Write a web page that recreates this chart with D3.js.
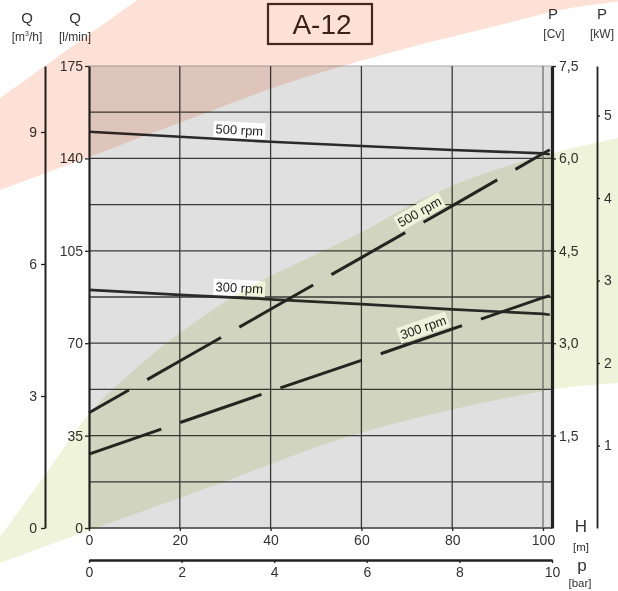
<!DOCTYPE html>
<html><head><meta charset="utf-8">
<script src="https://cdn.jsdelivr.net/npm/d3@7"></script>
<style>
body{margin:0;background:#fff}
svg{display:block;font-family:"Liberation Sans",Arial,sans-serif}
</style>
</head><body>
<svg id="c" width="618" height="591"></svg>
<script>
// ---------- data ----------
const headValues = [0, 20, 40, 60, 80, 100, 101.5];          // H [m]
const flow500 = [150.1, 148.2, 146.3, 144.7, 143.2, 141.9, 141.6]; // Q [l/min]
const flow300 = [90.2, 88.3, 86.6, 84.8, 82.8, 81.1, 80.8];
const power500 = [1.87, 2.71, 3.55, 4.39, 5.23, 6.08, 6.14];  // P [Cv]
const power300 = [1.20, 1.71, 2.22, 2.72, 3.23, 3.74, 3.77];
const headTicks = [0, 20, 40, 60, 80, 100];
const pressureTicks = [0, 2, 4, 6, 8, 10];
const flowLminTicks = [0, 35, 70, 105, 140, 175];
const flowM3hTicks = [0, 3, 6, 9];
const powerCvTicks = [1.5, 3, 4.5, 6, 7.5];
const powerKwTicks = [1, 2, 3, 4, 5];
const flowGrid = [17.5, 35, 52.5, 70, 87.5, 105, 122.5, 140, 157.5];
const headGrid = [20, 40, 60, 80];
// background bands, in (H, Q l/min) units
const greenUpper = [[-19.6,-3.4],[-9.7,20.1],[0.2,43.6],[11.2,61.7],[20,73.9],[28.9,84.5],[38.3,93.9],[59.7,111.7],[72.9,124.2],[86.1,133.7],[102.2,142],[116.5,147.7]];
const greenLower = [[116.5,54.9],[101.5,52.3],[59.7,36],[26.7,15.5],[0.2,-0.8],[-19.6,-13.3]];
const pinkUpper = [[-19.6,162.9],[10.6,200],[116.5,200]];
const pinkLower = [[116.5,199.4],[103.7,196.2],[90.5,190.5],[68.5,181.1],[43.8,168.6],[21.6,154.5],[0,140.5],[-19.6,128]];

// ---------- scales ----------
const svg = d3.select("#c");
const x = d3.scaleLinear().domain([0,100]).range([89,543]);
const xp = d3.scaleLinear().domain([0,10]).range([89,552]);
const yQ = d3.scaleLinear().domain([0,175]).range([528,66]);
const yM = d3.scaleLinear().domain([0,10.5]).range([528,66]);
const yCv = d3.scaleLinear().domain([0,7.5]).range([528,66]);
const yKw = d3.scaleLinear().domain([0,5.6]).range([528,66]);

svg.append("rect").attr("width",618).attr("height",591).attr("fill","#fff");

// plot background
const x0 = x(0), x1 = xp(10);
svg.append("rect").attr("x",x0).attr("y",yQ(175)).attr("width",x1-x0).attr("height",yQ(0)-yQ(175)).attr("fill","#e0e0e0");

// grid
const g = svg.append("g");
g.selectAll(".hg").data(flowGrid).join("line")
  .attr("x1",x0).attr("x2",x1).attr("y1",d=>yQ(d)).attr("y2",d=>yQ(d))
  .attr("stroke","#3a3a3a").attr("stroke-width",1.3);
g.append("line").attr("x1",x0).attr("x2",x1).attr("y1",yQ(175)).attr("y2",yQ(175)).attr("stroke","#a8a8a8").attr("stroke-width",1);
g.append("line").attr("x1",x0).attr("x2",x1).attr("y1",yQ(0)).attr("y2",yQ(0)).attr("stroke","#3a3a3a").attr("stroke-width",1.5);
g.selectAll(".vg").data(headGrid).join("line")
  .attr("x1",d=>x(d)).attr("x2",d=>x(d)).attr("y1",yQ(175)).attr("y2",yQ(0))
  .attr("stroke","#3a3a3a").attr("stroke-width",1.3);
g.append("line").attr("x1",x(100)).attr("x2",x(100)).attr("y1",yQ(175)).attr("y2",yQ(0)).attr("stroke","#707070").attr("stroke-width",1.3);

// ---------- curves ----------
const lineQ = d3.line().x((d,i)=>x(headValues[i])).y(d=>yQ(d));
const lineP = d3.line().x((d,i)=>x(headValues[i])).y(d=>yCv(d));
svg.append("path").attr("d",lineQ(flow500)).attr("fill","none").attr("stroke","#2a2a2a").attr("stroke-width",2.6);
svg.append("path").attr("d",lineQ(flow300)).attr("fill","none").attr("stroke","#2a2a2a").attr("stroke-width",2.6);
svg.append("path").attr("d",lineP(power500)).attr("fill","none").attr("stroke","#262626").attr("stroke-width",3)
  .attr("stroke-dasharray","85,21").attr("stroke-dashoffset",39);
svg.append("path").attr("d",lineP(power300)).attr("fill","none").attr("stroke","#262626").attr("stroke-width",3)
  .attr("stroke-dasharray","86,20").attr("stroke-dashoffset",9.5);

// labels along curves
function interp(arr, h){
  for(let i=0;i<headValues.length-1;i++){
    if(h>=headValues[i] && h<=headValues[i+1]){
      const t=(h-headValues[i])/(headValues[i+1]-headValues[i]);
      return [arr[i]+(arr[i+1]-arr[i])*t];
    }
  }
}
function curveLabel(arr, yS, h, dist, text){
  const [v] = interp(arr,h);
  const px = x(h), py = yS(v);
  const [va] = interp(arr,h+1);
  const dx = x(h+1)-px, dy = yS(va)-py;
  const a = Math.atan2(dy,dx);
  const cx = px + Math.sin(a)*dist, cy = py - Math.cos(a)*dist;
  const lg = svg.append("g").attr("transform",`translate(${cx},${cy}) rotate(${a*180/Math.PI})`);
  const t = lg.append("text").attr("text-anchor","middle").attr("dy","0.35em")
    .attr("font-size",13).attr("fill","#222").text(text);
  const bb = t.node().getBBox();
  lg.insert("rect","text").attr("x",bb.x-2).attr("y",bb.y-0.5).attr("width",bb.width+4).attr("height",bb.height+1).attr("fill","#fff");
}
curveLabel(flow500, yQ, 33, 10, "500 rpm");
curveLabel(flow300, yQ, 33, 10, "300 rpm");
curveLabel(power500, yCv, 74, 11, "500 rpm");
curveLabel(power300, yCv, 74.4, 11, "300 rpm");

// ---------- axes ----------
function styleAxis(sel, fs, sw){
  sel.selectAll("text").attr("font-size",fs).attr("fill","#333").attr("font-family","Liberation Sans, Arial, sans-serif");
  sel.selectAll(".tick line").attr("stroke","#222").attr("stroke-width",1.3);
  sel.select(".domain").attr("stroke","#222").attr("stroke-width",sw);
}
const aL = svg.append("g").attr("transform",`translate(${x0},0)`)
  .call(d3.axisLeft(yQ).tickValues(flowLminTicks).tickSize(4).tickSizeOuter(0).tickPadding(2));
styleAxis(aL,14,2.2);
const aM = svg.append("g").attr("transform",`translate(45,0)`)
  .call(d3.axisLeft(yM).tickValues(flowM3hTicks).tickFormat(d3.format("d")).tickSize(4).tickSizeOuter(0).tickPadding(4));
styleAxis(aM,14,2);
const fmtC = v => d3.format(".1f")(v).replace(".",",");
const aC = svg.append("g").attr("transform",`translate(${x1},0)`)
  .call(d3.axisRight(yCv).tickValues(powerCvTicks).tickFormat(fmtC).tickSize(4).tickSizeOuter(0).tickPadding(3));
styleAxis(aC,14,3.2);
const aK = svg.append("g").attr("transform",`translate(597,0)`)
  .call(d3.axisRight(yKw).tickValues(powerKwTicks).tickFormat(d3.format("d")).tickSize(3).tickSizeOuter(0).tickPadding(4));
styleAxis(aK,14,1.8);
const aH = svg.append("g").attr("transform",`translate(0,${yQ(0)})`)
  .call(d3.axisBottom(x).tickValues(headTicks).tickFormat(d3.format("d")).tickSize(3).tickSizeOuter(0).tickPadding(4));
styleAxis(aH,14,0);
aH.select(".domain").remove();
const aP = svg.append("g").attr("transform",`translate(0,560)`)
  .call(d3.axisBottom(xp).tickValues(pressureTicks).tickFormat(d3.format("d")).tickSize(3).tickSizeOuter(0).tickPadding(4));
styleAxis(aP,14,2.4);

// axis titles
function txt(xx,yy,s,fs,anchor){
  return svg.append("text").attr("x",xx).attr("y",yy).attr("font-size",fs).attr("fill","#333")
    .attr("text-anchor",anchor||"middle").text(s);
}
txt(27,23,"Q",15);
const m3 = svg.append("text").attr("x",27).attr("y",41).attr("font-size",12).attr("fill","#333").attr("text-anchor","middle");
m3.append("tspan").text("[m");
m3.append("tspan").attr("font-size",7).attr("dy",-5).text("3");
m3.append("tspan").attr("dy",5).text("/h]");
txt(75,23,"Q",15);
txt(75,41,"[l/min]",12);
txt(553,19,"P",15);
txt(554,38,"[Cv]",12);
txt(602,19,"P",15);
txt(602,38,"[kW]",12);
txt(581,532,"H",17);
txt(581,551,"[m]",11.5);
txt(582,571,"p",17);
txt(580,587,"[bar]",11.5);

// title
svg.append("rect").attr("x",268).attr("y",4).attr("width",104).attr("height",40)
  .attr("fill","none").attr("stroke","#4a2a20").attr("stroke-width",2.2);
svg.append("text").attr("x",322).attr("y",34).attr("text-anchor","middle").attr("font-size",28)
  .attr("fill","#3a2620").text("A-12");

// ---------- colour bands (multiply) ----------
const bandLine = d3.line().x(d=>x(d[0])).y(d=>yQ(d[1])).curve(d3.curveCatmullRom);
const bandLinear = d3.line().x(d=>x(d[0])).y(d=>yQ(d[1]));
const bands = svg.append("g").style("mix-blend-mode","multiply");
bands.append("path")
  .attr("d", bandLine(greenUpper) + bandLine(greenLower).replace(/^M/,"L") + "Z")
  .attr("fill","#eef3da").style("mix-blend-mode","multiply");
bands.append("path")
  .attr("d", bandLinear(pinkUpper) + bandLine(pinkLower).replace(/^M/,"L") + "Z")
  .attr("fill","#fde1d6").style("mix-blend-mode","multiply");
</script>
</body></html>
